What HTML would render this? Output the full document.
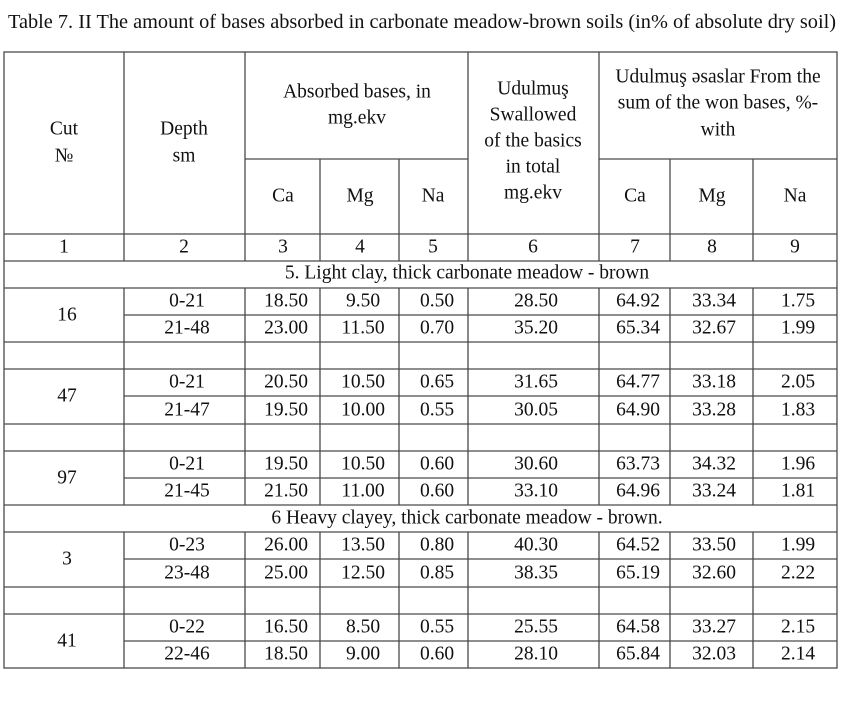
<!DOCTYPE html>
<html><head><meta charset="utf-8"><style>
body{margin:0;background:#fff;}
svg{display:block;}
text{font-family:"Liberation Serif",serif;font-size:19.5px;fill:#111;}
</style></head><body>
<svg width="862" height="702" viewBox="0 0 862 702">
<text x="8" y="28" textLength="828" lengthAdjust="spacingAndGlyphs" style="font-size:20px">Table 7. II The amount of bases absorbed in carbonate meadow-brown soils (in% of absolute dry soil)</text>
<g stroke="#4a4a4a" stroke-width="1.3" fill="none">
<rect x="4" y="52" width="833" height="616"/>
<line x1="245" y1="159" x2="468" y2="159"/>
<line x1="599" y1="159" x2="837" y2="159"/>
<line x1="4" y1="234" x2="837" y2="234"/>
<line x1="4" y1="261" x2="837" y2="261"/>
<line x1="4" y1="288" x2="837" y2="288"/>
<line x1="124" y1="315" x2="837" y2="315"/>
<line x1="4" y1="342" x2="837" y2="342"/>
<line x1="4" y1="369" x2="837" y2="369"/>
<line x1="124" y1="396" x2="837" y2="396"/>
<line x1="4" y1="424" x2="837" y2="424"/>
<line x1="4" y1="451" x2="837" y2="451"/>
<line x1="124" y1="478" x2="837" y2="478"/>
<line x1="4" y1="505" x2="837" y2="505"/>
<line x1="4" y1="532" x2="837" y2="532"/>
<line x1="124" y1="559" x2="837" y2="559"/>
<line x1="4" y1="587" x2="837" y2="587"/>
<line x1="4" y1="614" x2="837" y2="614"/>
<line x1="124" y1="641" x2="837" y2="641"/>
<line x1="124" y1="52" x2="124" y2="261"/><line x1="124" y1="288" x2="124" y2="505"/><line x1="124" y1="532" x2="124" y2="668"/>
<line x1="245" y1="52" x2="245" y2="261"/><line x1="245" y1="288" x2="245" y2="505"/><line x1="245" y1="532" x2="245" y2="668"/>
<line x1="468" y1="52" x2="468" y2="261"/><line x1="468" y1="288" x2="468" y2="505"/><line x1="468" y1="532" x2="468" y2="668"/>
<line x1="599" y1="52" x2="599" y2="261"/><line x1="599" y1="288" x2="599" y2="505"/><line x1="599" y1="532" x2="599" y2="668"/>
<line x1="399" y1="159" x2="399" y2="261"/><line x1="399" y1="288" x2="399" y2="505"/><line x1="399" y1="532" x2="399" y2="668"/>
<line x1="320" y1="159" x2="320" y2="261"/><line x1="320" y1="288" x2="320" y2="505"/><line x1="320" y1="532" x2="320" y2="668"/>
<line x1="670" y1="159" x2="670" y2="261"/><line x1="670" y1="288" x2="670" y2="505"/><line x1="670" y1="532" x2="670" y2="668"/>
<line x1="753" y1="159" x2="753" y2="261"/><line x1="753" y1="288" x2="753" y2="505"/><line x1="753" y1="532" x2="753" y2="668"/>
</g>
<g text-anchor="middle" dominant-baseline="central">
<text x="64" y="129">Cut</text><text x="64" y="156">№</text>
<text x="184" y="129">Depth</text><text x="184" y="156">sm</text>
<text x="357" y="92">Absorbed bases, in</text><text x="357" y="118">mg.ekv</text>
<text x="283" y="196">Ca</text><text x="360" y="196">Mg</text><text x="433" y="196">Na</text>
<text x="533" y="89">Udulmuş</text><text x="533" y="115">Swallowed</text><text x="533" y="141">of the basics</text><text x="533" y="167">in total</text><text x="533" y="193">mg.ekv</text>
<text x="718" y="77">Udulmuş əsaslar From the</text><text x="718" y="103">sum of the won bases, %-</text><text x="718" y="130">with</text>
<text x="635" y="196">Ca</text><text x="712" y="196">Mg</text><text x="795" y="196">Na</text>
<text x="64" y="247">1</text><text x="184" y="247">2</text><text x="283" y="247">3</text><text x="360" y="247">4</text><text x="433" y="247">5</text><text x="533" y="247">6</text><text x="635" y="247">7</text><text x="712" y="247">8</text><text x="795" y="247">9</text>
<text x="467" y="273">5. Light clay, thick carbonate meadow - brown</text>
<text x="467" y="518">6 Heavy clayey, thick carbonate meadow - brown.</text>
<text x="67" y="315">16</text><text x="67" y="396">47</text><text x="67" y="478">97</text><text x="67" y="559">3</text><text x="67" y="641">41</text>
</g>
<g text-anchor="middle" dominant-baseline="central">
<g><text x="187" y="301">0-21</text><text x="286" y="301">18.50</text><text x="363" y="301">9.50</text><text x="437" y="301">0.50</text><text x="536" y="301">28.50</text><text x="638" y="301">64.92</text><text x="714" y="301">33.34</text><text x="798" y="301">1.75</text></g>
<g><text x="187" y="328">21-48</text><text x="286" y="328">23.00</text><text x="363" y="328">11.50</text><text x="437" y="328">0.70</text><text x="536" y="328">35.20</text><text x="638" y="328">65.34</text><text x="714" y="328">32.67</text><text x="798" y="328">1.99</text></g>
<g><text x="187" y="382">0-21</text><text x="286" y="382">20.50</text><text x="363" y="382">10.50</text><text x="437" y="382">0.65</text><text x="536" y="382">31.65</text><text x="638" y="382">64.77</text><text x="714" y="382">33.18</text><text x="798" y="382">2.05</text></g>
<g><text x="187" y="410">21-47</text><text x="286" y="410">19.50</text><text x="363" y="410">10.00</text><text x="437" y="410">0.55</text><text x="536" y="410">30.05</text><text x="638" y="410">64.90</text><text x="714" y="410">33.28</text><text x="798" y="410">1.83</text></g>
<g><text x="187" y="464">0-21</text><text x="286" y="464">19.50</text><text x="363" y="464">10.50</text><text x="437" y="464">0.60</text><text x="536" y="464">30.60</text><text x="638" y="464">63.73</text><text x="714" y="464">34.32</text><text x="798" y="464">1.96</text></g>
<g><text x="187" y="491">21-45</text><text x="286" y="491">21.50</text><text x="363" y="491">11.00</text><text x="437" y="491">0.60</text><text x="536" y="491">33.10</text><text x="638" y="491">64.96</text><text x="714" y="491">33.24</text><text x="798" y="491">1.81</text></g>
<g><text x="187" y="545">0-23</text><text x="286" y="545">26.00</text><text x="363" y="545">13.50</text><text x="437" y="545">0.80</text><text x="536" y="545">40.30</text><text x="638" y="545">64.52</text><text x="714" y="545">33.50</text><text x="798" y="545">1.99</text></g>
<g><text x="187" y="573">23-48</text><text x="286" y="573">25.00</text><text x="363" y="573">12.50</text><text x="437" y="573">0.85</text><text x="536" y="573">38.35</text><text x="638" y="573">65.19</text><text x="714" y="573">32.60</text><text x="798" y="573">2.22</text></g>
<g><text x="187" y="627">0-22</text><text x="286" y="627">16.50</text><text x="363" y="627">8.50</text><text x="437" y="627">0.55</text><text x="536" y="627">25.55</text><text x="638" y="627">64.58</text><text x="714" y="627">33.27</text><text x="798" y="627">2.15</text></g>
<g><text x="187" y="654">22-46</text><text x="286" y="654">18.50</text><text x="363" y="654">9.00</text><text x="437" y="654">0.60</text><text x="536" y="654">28.10</text><text x="638" y="654">65.84</text><text x="714" y="654">32.03</text><text x="798" y="654">2.14</text></g>
</g>
</svg>
</body></html>
